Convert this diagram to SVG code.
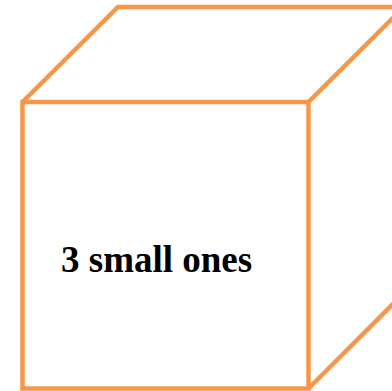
<svg xmlns="http://www.w3.org/2000/svg" width="392" height="391" viewBox="0 0 392 391">
<style>
.edge{fill:none;stroke:#F79646;stroke-width:4.5;stroke-linejoin:miter}
.lbl{font-family:"Liberation Serif",serif;font-weight:bold;font-size:37px;fill:#000}
</style>
<rect width="392" height="391" fill="#fff"/>
<g id="cube">
<path class="edge" d="M22.5,102 L118,7 L404,7 L404,293 L308.5,388.5 M308.5,102 L404,7"/>
<rect class="edge" x="22.5" y="102" width="286" height="286.5"/>
</g>
<g id="label">
<text class="lbl" x="61" y="272">3 small ones</text>
</g>
</svg>
